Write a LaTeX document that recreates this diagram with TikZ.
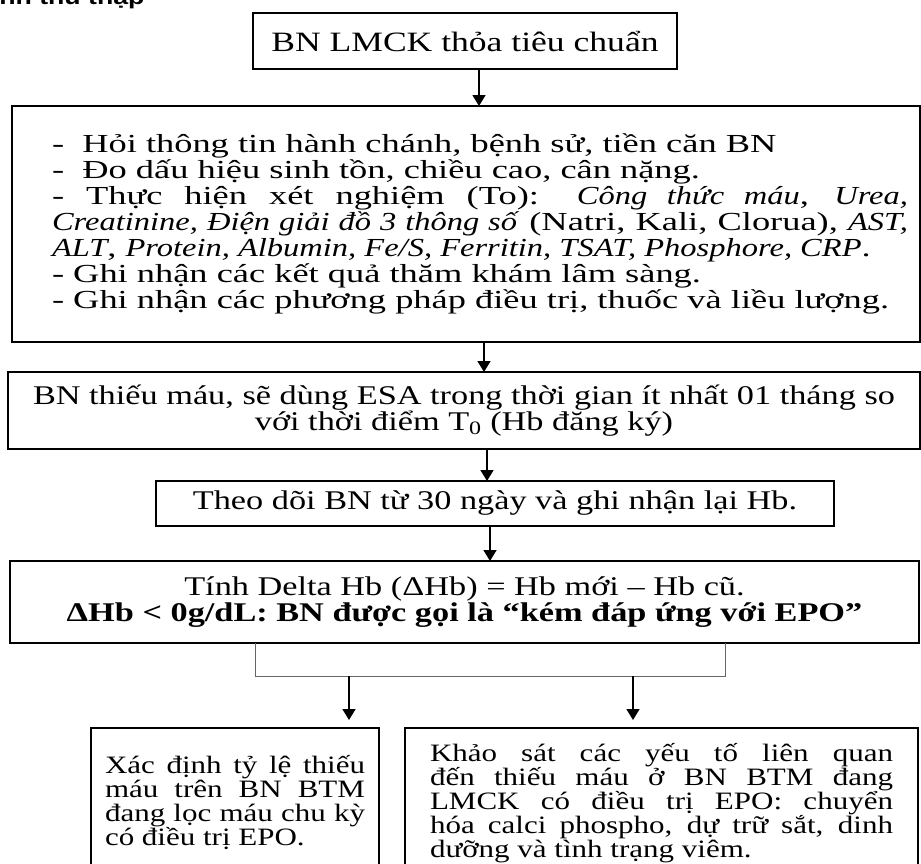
\documentclass[tikz,border=0pt]{standalone}
\usepackage{fontspec}
\setmainfont{Liberation Serif}[FakeStretch=1.27]
\newfontfamily\listfont{Liberation Serif}[UprightFeatures={FakeStretch=1.40}, ItalicFeatures={FakeStretch=1.25}]
\newfontfamily\aimfont{Liberation Serif}[FakeStretch=1.24]
\newfontfamily\headfont{Liberation Sans}[FakeStretch=1.27]
\usetikzlibrary{positioning,arrows.meta}
\lineskiplimit=-50pt
\tikzset{
flow_box/.style={rectangle, draw, line width=1.6pt, inner sep=0pt, outer sep=0pt, align=center, font=\fontsize{27}{26.5}\selectfont},
list_box/.style={flow_box, font=\listfont\fontsize{26}{26}\selectfont},
aim_box/.style={flow_box, align=justify, minimum height=150pt, font=\aimfont\fontsize{25}{24}\selectfont},
flow_arrow/.style={-{Triangle[length=11pt,width=13pt]}, line width=1.6pt},
fork_line/.style={line width=1pt, color=black!60}
}

\begin{document}
\begin{tikzpicture}
    \useasboundingbox (0,0) rectangle (921pt,-863pt);
    \clip (0,0) rectangle (921pt,-863pt);
    \node[anchor=base east, font=\headfont\bfseries\fontsize{21}{21}\selectfont] (title) at (148pt,-4pt) {Quy trình thu thập};
    \node[flow_box, minimum width=424pt, minimum height=56pt, font=\fontsize{28}{28}\selectfont] (box_start) at (465pt,-41pt) {BN LMCK thỏa tiêu chuẩn};
    \node[list_box, minimum width=908pt, minimum height=236pt] (box_info) [below=37pt of box_start, xshift=1pt] {\hspace*{28pt}\parbox[c]{856pt}{%
    -\ \ Hỏi thông tin hành chánh, bệnh sử, tiền căn BN\\
    -\ \ Đo dấu hiệu sinh tồn, chiều cao, cân nặng.\\
    - Thực hiện xét nghiệm (To): \textit{Công thức máu}, \textit{Urea,}\linebreak
    \textit{Creatinine, Điện giải đồ 3 thông số} (Natri, Kali, Clorua), \textit{AST,}\linebreak
    \textit{ALT}, \textit{Protein, Albumin, Fe/S, Ferritin, TSAT, Phosphore, CRP}.\\
    - Ghi nhận các kết quả thăm khám lâm sàng.\\
    - Ghi nhận các phương pháp điều trị, thuốc và liều lượng.}};
    \node[flow_box, minimum width=912pt, minimum height=77pt] (box_esa) [below=30pt of box_info, xshift=-2pt] {BN thiếu máu, sẽ dùng ESA trong thời gian ít nhất 01 tháng so\\ với thời điểm T\textsubscript{0} (Hb đăng ký)};
    \node[flow_box, minimum width=678pt, minimum height=45pt] (box_follow) [below=32pt of box_esa, xshift=31pt] {Theo dõi BN từ 30 ngày và ghi nhận lại Hb.};
    \node[flow_box, minimum width=909pt, minimum height=82pt] (box_delta) [below=35pt of box_follow, xshift=-30.5pt] {Tính Delta Hb (ΔHb) = Hb mới – Hb cũ.\\ \textbf{ΔHb < 0g/dL: BN được gọi là “kém đáp ứng với EPO”}};
    \node[aim_box, text width=260pt, minimum width=288pt] (box_rate) [below=85pt of box_delta, xshift=-229.5pt] {Xác định tỷ lệ thiếu\linebreak máu trên BN BTM\linebreak đang lọc máu chu kỳ\linebreak có điều trị EPO.};
    \node[aim_box, text width=463pt, minimum width=513pt] (box_factor) [below=85pt of box_delta, xshift=197pt] {Khảo sát các yếu tố liên quan\linebreak đến thiếu máu ở BN BTM đang\linebreak LMCK có điều trị EPO: chuyển\linebreak hóa calci phospho, dự trữ sắt, dinh\linebreak dưỡng và tình trạng viêm.};
    % arrows between the steps
    \draw[flow_arrow] ([xshift=14pt]box_start.south) -- ([xshift=14pt]box_start.south |- box_info.north);
    \draw[flow_arrow] ([xshift=18pt]box_info.south) -- ([xshift=18pt]box_info.south |- box_esa.north);
    \draw[flow_arrow] ([xshift=-8pt]box_follow.north |- box_esa.south) -- ([xshift=-8pt]box_follow.north);
    \draw[flow_arrow] ([xshift=-5pt]box_follow.south) -- ([xshift=-5pt]box_follow.south |- box_delta.north);
    % fork to the two aims
    \draw[fork_line] ([xshift=-209.5pt]box_delta.south) -- ++(0,-33pt) coordinate (fork_l) -- ([xshift=260.5pt]box_delta.south |- fork_l) coordinate (fork_r) -- ([xshift=260.5pt]box_delta.south);
    \draw[flow_arrow, shorten >=8pt] ([xshift=94pt]fork_l) -- ([xshift=94pt]fork_l |- box_rate.north);
    \draw[flow_arrow, shorten >=8pt] ([xshift=-92pt]fork_r) -- ([xshift=-92pt]fork_r |- box_factor.north);
\end{tikzpicture}
\end{document}
